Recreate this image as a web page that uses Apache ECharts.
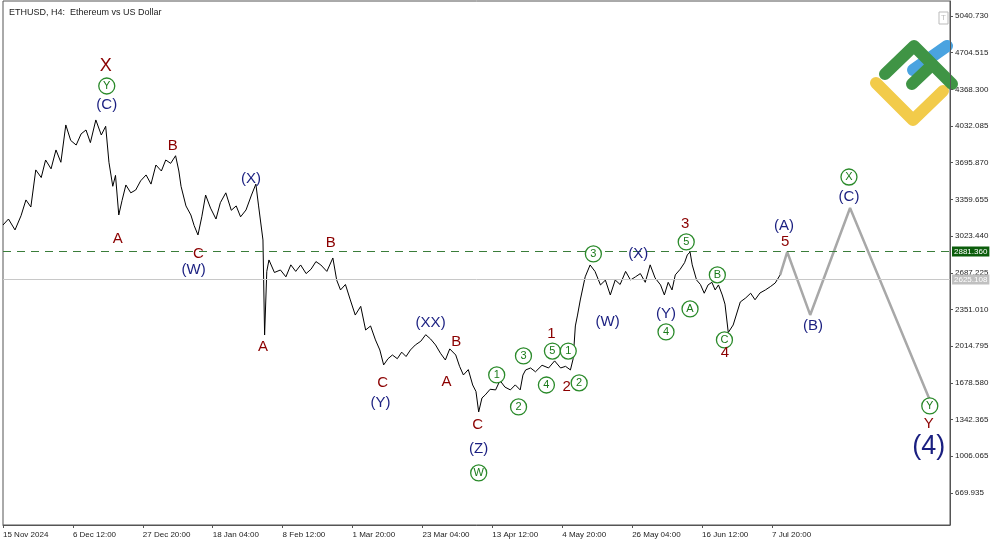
<!DOCTYPE html>
<html>
<head>
<meta charset="utf-8">
<script src="https://cdn.jsdelivr.net/npm/echarts@6/dist/echarts.min.js"></script>
<style>html,body{margin:0;padding:0;background:#fff}#main{width:1000px;height:545px}</style>
</head>
<body>
<div id="main"></div>
<script>
// 价格走势 (H4 bar index, price)
var priceBars = [0,10,22,33,42,51,60,70,78,88,97,106,115,124,134,143,152,160,170,180,188,194,201,206,212,218,225,234,243,252,262,271,280,290,298,307,316,322,326,335,344,350,357,364,371,380,390,398,408,418,427,435,445,455,463,468,476,479,483,487,497,508,518,527,536,545,555,564,573,582,593,604,611,618,627,636,645,655,664,673,682,690,697,705,713,722,730,738,746,755,765,774,783,792,801,810,818,829,836,843,852,860,866,871,877,883,892,902,910,919,929,938,947,952,957,966,975,987,999,1010,1021,1030,1039,1044,1048,1052,1057,1066,1075,1084,1094,1103,1112,1121,1130,1140,1149,1158,1167,1176,1185,1194,1204,1211,1218,1225,1231,1240,1248,1253,1258,1262,1270,1277,1284,1291,1298,1304,1310,1317,1322,1328,1337,1350,1360,1369,1377,1386,1396,1405,1414,1423];
var priceVals = [3125,3180,3080,3210,3355,3290,3630,3560,3721,3640,3813,3700,4042,3900,3858,3960,3996,3880,4088,3950,4030,3700,3480,3580,3217,3350,3492,3420,3446,3530,3584,3500,3675,3620,3721,3690,3760,3620,3480,3300,3217,3120,3034,3200,3400,3280,3180,3330,3420,3260,3300,3200,3263,3400,3500,3300,2988,2117,2700,2805,2690,2713,2650,2760,2700,2759,2680,2720,2790,2759,2700,2823,2620,2530,2580,2438,2300,2380,2163,2200,2072,1980,1843,1900,1934,1900,1960,1920,1980,2026,2060,2120,2080,2026,1950,1888,1990,1934,1830,1751,1800,1659,1600,1412,1540,1568,1620,1614,1700,1640,1614,1660,1614,1750,1797,1815,1780,1840,1815,1880,1815,1830,1797,1900,2200,2300,2438,2650,2759,2700,2576,2620,2484,2621,2580,2700,2621,2650,2680,2600,2760,2640,2576,2484,2600,2530,2668,2720,2780,2851,2878,2760,2621,2580,2500,2576,2600,2530,2576,2484,2400,2140,2209,2420,2457,2500,2440,2502,2530,2560,2594,2668];
// 预测路径
var fcBars = [1423,1436,1478,1551,1697];
var fcVals = [2668,2878,2301,3281,1522];
// 坐标轴刻度
var yTicks = [669.935,1006.065,1342.365,1678.580,2014.795,2351.010,2687.225,3023.440,3359.655,3695.870,4032.085,4368.300,4704.515,5040.730];
var xTicks = [0,128,256,384,512,640,768,896,1024,1152,1280,1408];
var xTickLabels = ['15 Nov 2024','6 Dec 12:00','27 Dec 20:00','18 Jan 04:00','8 Feb 12:00','1 Mar 20:00','23 Mar 04:00','13 Apr 12:00','4 May 20:00','26 May 04:00','16 Jun 12:00','7 Jul 20:00'];
// 波浪标注: [文字, bar, price, 类型] r=红 b=蓝 g=绿圈
var waveLabels = [
  ['X',188,4582,'r'],['Y',190,4399,'g'],['(C)',190,4225,'b'],
  ['B',311,3849,'r'],['A',210,2997,'r'],['C',358,2860,'r'],['(W)',349,2713,'b'],
  ['(X)',454,3547,'b'],['A',476,2007,'r'],['B',600,2961,'r'],['C',695,1678,'r'],['(Y)',691,1494,'b'],
  ['(XX)',783,2227,'b'],['B',830,2053,'r'],['A',812,1687,'r'],['C',869,1293,'r'],['(Z)',871,1073,'b'],['W',871,853,'g'],
  ['1',904,1751,'g'],['2',944,1458,'g'],['3',953,1925,'g'],['4',995,1659,'g'],['5',1006,1970,'g'],
  ['1',1004,2127,'r'],['1',1035,1970,'g'],['2',1032,1641,'r'],['2',1055,1678,'g'],['3',1081,2860,'g'],
  ['(W)',1107,2236,'b'],['(X)',1163,2860,'b'],['3',1249,3135,'r'],['5',1251,2970,'g'],['B',1308,2668,'g'],
  ['(Y)',1214,2310,'b'],['4',1214,2145,'g'],['A',1258,2356,'g'],['C',1321,2072,'g'],['4',1322,1952,'r'],
  ['(A)',1430,3116,'b'],['5',1432,2970,'r'],['(B)',1483,2200,'b'],['X',1549,3565,'g'],['(C)',1549,3382,'b'],
  ['Y',1697,1467,'g'],['Y',1695,1302,'r']
];
var levelHigh = 2881.360, levelCur = 2625.108;

var red = '#8b0000', navy = '#1a1f80', green = '#2a8a2a';
var priceData = priceBars.map(function(b,i){ return [b, priceVals[i]]; });
var fcData = fcBars.map(function(b,i){ return [b, fcVals[i]]; });
var textData = [], circData = [];
waveLabels.forEach(function(w){
  var item = {value:[w[1],w[2]], name:w[0]};
  if (w[3] === 'g') circData.push(item);
  else { item.label = {color: w[3]==='r' ? red : navy, fontSize: (w[0]==='X' && w[1]<300) ? 18 : 15}; textData.push(item); }
});
textData.push({value:[1695,1091], name:'(4)', label:{color:navy, fontSize:27}});

var myChart = echarts.init(document.getElementById('main'));
var option = {
  animation:false,
  grid:{left:1,right:50,top:1,bottom:20,show:true,borderColor:'#555',borderWidth:1},
  title:{text:'ETHUSD, H4:  Ethereum vs US Dollar',left:4,top:3,textStyle:{fontSize:9,fontWeight:'normal',color:'#222',fontFamily:'Liberation Sans'}},
  xAxis:{type:'value',min:0,max:1734,splitLine:{show:false},
    axisLine:{lineStyle:{color:'#555'}},
    axisTick:{customValues:xTicks,length:3,lineStyle:{color:'#555'}},
    axisLabel:{customValues:xTicks,fontSize:8,color:'#222',align:'left',margin:6,fontFamily:'Liberation Sans',
      formatter:function(v){ var i = xTicks.indexOf(v); return i>=0 ? xTickLabels[i] : ''; }}},
  yAxis:{type:'value',position:'right',min:376,max:5178,splitLine:{show:false},
    axisLine:{show:true,onZero:false,lineStyle:{color:'#555'}},
    axisTick:{show:true,inside:false,customValues:yTicks,length:3,lineStyle:{color:'#555'}},
    axisLabel:{customValues:yTicks,fontSize:8,color:'#222',margin:5,fontFamily:'Liberation Sans',
      formatter:function(v){ return v.toFixed(3); }}},
  series:[
    {type:'line',data:priceData,showSymbol:false,lineStyle:{color:'#000',width:1},z:3,
      markLine:{silent:true,symbol:'none',
        data:[
          {yAxis:levelHigh,lineStyle:{color:'#3a7d3a',type:[8,6],width:1},
            label:{position:'end',formatter:levelHigh.toFixed(3),backgroundColor:'#0b5d0b',color:'#fff',fontSize:8,padding:[1,2],distance:2}},
          {yAxis:levelCur,lineStyle:{color:'#c8c8c8',type:'solid',width:1},
            label:{position:'end',formatter:levelCur.toFixed(3),backgroundColor:'#c0c0c0',color:'#fff',fontSize:8,padding:[1,2],distance:2}}
        ]}},
    {type:'line',data:fcData,showSymbol:false,lineStyle:{color:'#a8a8a8',width:2.5},z:2},
    {type:'scatter',data:textData,symbolSize:1,itemStyle:{color:'rgba(0,0,0,0)',opacity:1},z:5,
      label:{show:true,position:'inside',formatter:'{b}',opacity:1,fontFamily:'Liberation Sans'}},
    {type:'scatter',data:circData,symbol:'circle',symbolSize:16,z:5,
      itemStyle:{color:'#fff',borderColor:green,borderWidth:1.3,opacity:1},
      label:{show:true,position:'inside',formatter:'{b}',color:'#1a7a1a',fontSize:11,opacity:1,fontFamily:'Liberation Sans'}}
  ],
  graphic:[
    {type:'rect',shape:{x:939,y:12,width:9,height:12},style:{fill:'none',stroke:'#bbb',lineWidth:1}},
    {type:'text',style:{x:941,y:14,text:'T',fontSize:8,fill:'#bbb'}},
    {type:'polyline',shape:{points:[[913,70],[947,46]]},style:{stroke:'#4aa3e0',lineWidth:12,lineCap:'round'}},
    {type:'polyline',shape:{points:[[876,83],[913,120],[943,91]]},style:{stroke:'#f2cb4a',lineWidth:12,lineCap:'round',lineJoin:'round'}},
    {type:'polyline',shape:{points:[[885,74],[914,46],[952,84]]},style:{stroke:'#3f9445',lineWidth:12,lineCap:'round',lineJoin:'round'}},
    {type:'polyline',shape:{points:[[912,84],[932,65]]},style:{stroke:'#3f9445',lineWidth:12,lineCap:'round'}}
  ]
};
myChart.setOption(option);
</script>
</body>
</html>
